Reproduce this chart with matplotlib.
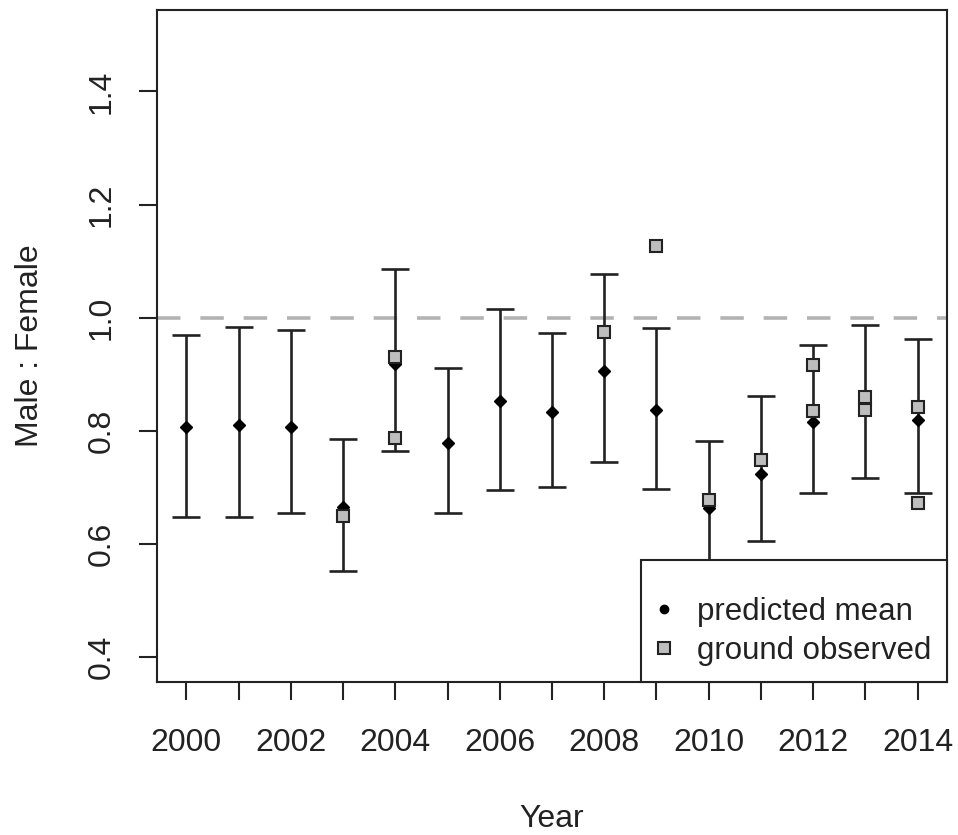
import matplotlib
matplotlib.use("Agg")
import matplotlib.pyplot as plt
from matplotlib.lines import Line2D

# Valores (razon Macho : Hembra)
years = [2000, 2001, 2002, 2003, 2004, 2005, 2006, 2007, 2008, 2009, 2010, 2011, 2012, 2013, 2014]
pred_mean = [0.806, 0.810, 0.806, 0.666, 0.918, 0.778, 0.852, 0.834, 0.905, 0.837, 0.664, 0.724, 0.816, 0.848, 0.820]
pred_low = [0.648, 0.648, 0.655, 0.552, 0.765, 0.655, 0.695, 0.701, 0.745, 0.698, 0.530, 0.605, 0.691, 0.716, 0.691]
pred_high = [0.970, 0.984, 0.978, 0.786, 1.087, 0.911, 1.016, 0.973, 1.077, 0.981, 0.782, 0.861, 0.952, 0.988, 0.963]

obs_years = [2003, 2004, 2004, 2008, 2009, 2010, 2011, 2012, 2012, 2013, 2013, 2014, 2014]
obs_ratio = [0.650, 0.931, 0.787, 0.974, 1.126, 0.677, 0.748, 0.917, 0.835, 0.860, 0.837, 0.843, 0.673]

plt.rcParams["font.family"] = ["Liberation Sans", "DejaVu Sans"]
ink = "#222222"

fig = plt.figure(figsize=(9.58, 8.35), dpi=100)
ax = fig.add_axes([157 / 958, 153 / 835, 790 / 958, 672 / 835])

ax.axhline(1.0, color="#b3b3b3", lw=2.6, dashes=(6.5, 5.5), zorder=1)

yerr = [[m - lo for m, lo in zip(pred_mean, pred_low)],
        [hi - m for m, hi in zip(pred_mean, pred_high)]]
ax.errorbar(years, pred_mean, yerr=yerr, fmt="none", ecolor=ink, elinewidth=1.9,
            capsize=10, capthick=1.9, zorder=2)
ax.plot(years, pred_mean, "D", color="black", markersize=6.5, zorder=3)
ax.plot(obs_years, obs_ratio, "s", markerfacecolor="#bebebe", markeredgecolor=ink,
        markeredgewidth=1.5, markersize=9, zorder=4)

ax.set_xlim(1999.44, 2014.56)
ax.set_ylim(0.356, 1.544)
ax.set_xticks(years)
ax.set_xticklabels([str(y) if y % 2 == 0 else "" for y in years])
ax.set_yticks([0.4, 0.6, 0.8, 1.0, 1.2, 1.4])
ax.set_yticklabels(["0.4", "0.6", "0.8", "1.0", "1.2", "1.4"], rotation=90, va="center")
ax.tick_params(axis="both", length=13, width=1.5, color=ink, labelsize=23, labelcolor=ink)
ax.tick_params(axis="x", pad=20)
ax.tick_params(axis="y", pad=16)
for s in ax.spines.values():
    s.set_linewidth(1.5)
    s.set_color(ink)

ax.set_xlabel("Year", fontsize=23, color=ink, labelpad=33)
ax.set_ylabel("Male : Female", fontsize=23, color=ink, labelpad=30)

handles = [
    Line2D([], [], ls="none", marker="o", color="black", markersize=6),
    Line2D([], [], ls="none", marker="s", markerfacecolor="#bebebe", markeredgecolor=ink,
           markeredgewidth=1.5, markersize=9),
]
leg = ax.legend(handles, ["predicted mean", "ground observed"], loc="lower right",
                borderaxespad=0, fancybox=False, framealpha=1, edgecolor=ink,
                fontsize=22.5, handlelength=0.5, handletextpad=0.8, borderpad=0.5,
                labelspacing=0.3, title=" ", title_fontsize=9)
leg.get_frame().set_linewidth(1.5)
leg.set_zorder(10)
for t in leg.get_texts():
    t.set_color(ink)

fig.savefig("out.png", dpi=100)
